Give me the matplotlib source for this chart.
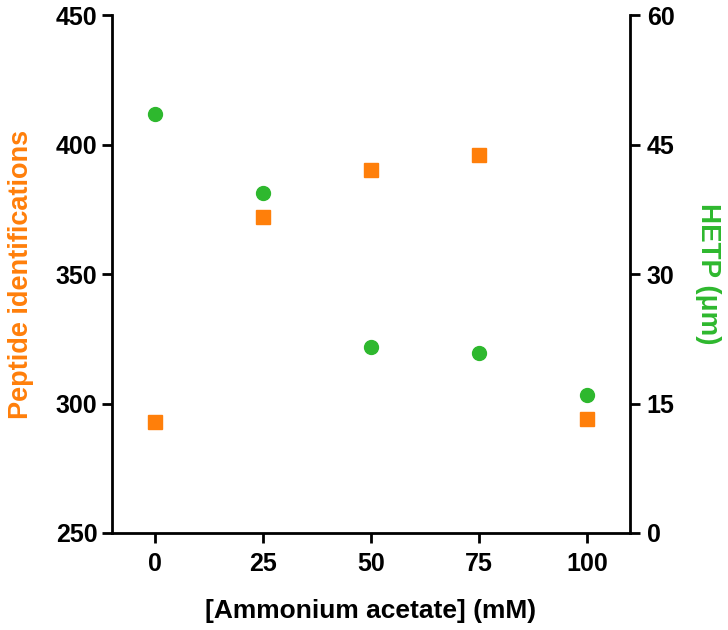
import matplotlib
matplotlib.use("Agg")
import matplotlib.pyplot as plt

plt.rcParams["font.family"] = ["Liberation Sans", "DejaVu Sans"]

# data
conc = [0, 25, 50, 75, 100]
peptides = [293, 372, 390, 396, 294]
hetp = [48.5, 39.4, 21.5, 20.8, 16.0]

x_ticks = [0, 25, 50, 75, 100]
left_ticks = [250, 300, 350, 400, 450]
right_ticks = [0, 15, 30, 45, 60]

orange = "#FF7F0A"
green = "#2EB82E"

fig = plt.figure(figsize=(7.28, 6.3), dpi=100)
ax = fig.add_axes([0.1538, 0.154, 0.7116, 0.822])
ax2 = ax.twinx()

ax.plot(conc, peptides, "s", color=orange, markersize=10.5, zorder=3)
ax2.plot(conc, hetp, "o", color=green, markersize=10, zorder=3)

ax.set_xlim(-10, 110)
ax.set_ylim(250, 450)
ax2.set_ylim(0, 60)
ax.set_xticks(x_ticks)
ax.set_yticks(left_ticks)
ax2.set_yticks(right_ticks)

for a in (ax, ax2):
    a.spines["top"].set_visible(False)
    for s in a.spines.values():
        s.set_linewidth(2)
    a.tick_params(width=2, length=7, labelsize=18, direction="out")
    for lab in a.get_xticklabels() + a.get_yticklabels():
        lab.set_fontweight("bold")
ax2.spines["left"].set_visible(False)
ax2.spines["bottom"].set_visible(False)
ax.spines["right"].set_visible(False)
ax.tick_params(axis="x", pad=6.5)
ax.tick_params(axis="y", pad=3.5)
ax2.tick_params(axis="y", pad=5)

ax.set_xlabel("[Ammonium acetate] (mM)", fontsize=19, fontweight="bold")
ax.xaxis.set_label_coords(0.5, -0.128)
ax.set_ylabel("Peptide identifications", fontsize=19.5, fontweight="bold", color=orange)
ax.yaxis.set_label_coords(-0.151, 0.5)
ax2.set_ylabel("HETP (\u03bcm)", fontsize=20, fontweight="bold", color=green,
               rotation=270, va="bottom")
ax2.yaxis.set_label_coords(1.126, 0.5)

fig.savefig("out.png", dpi=100)
